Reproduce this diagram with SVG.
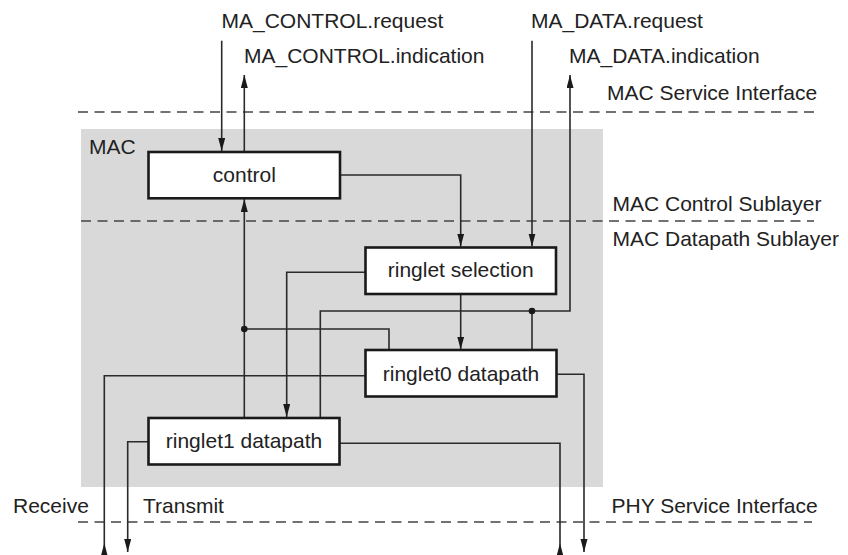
<svg xmlns="http://www.w3.org/2000/svg" width="848" height="555" viewBox="0 0 848 555">
  <defs>
    <style>
      text { font-family: "Liberation Sans", Arial, Helvetica, sans-serif; font-size: 21px; fill: #222; }
      .mid { text-anchor: middle; }
      .box { fill: #fff; stroke: #1a1a1a; stroke-width: 2.6; }
      .dash { fill: none; stroke: #444; stroke-width: 1.3; stroke-dasharray: 10 6.5; }
      .wire { fill: none; stroke: #2a2a2a; stroke-width: 1.6; }
      .arr { marker-end: url(#ah); }
    </style>
    <marker id="ah" markerUnits="userSpaceOnUse" markerWidth="14" markerHeight="8" refX="13" refY="3.5" orient="auto">
      <path d="M0,0 L13,3.5 L0,7 z" fill="#1a1a1a"/>
    </marker>
  </defs>

  <rect x="0" y="0" width="848" height="555" fill="#fff"/>

  <g id="mac-area">
    <rect x="81" y="129" width="522" height="358" fill="#d9d9d9"/>
    <text x="89" y="154">MAC</text>
  </g>

  <g id="interfaces">
    <line class="dash" x1="78" y1="112" x2="814" y2="112"/>
    <line class="dash" x1="81" y1="221" x2="814" y2="221"/>
    <line class="dash" x1="78" y1="522" x2="812" y2="522"/>
    <text x="607" y="100">MAC Service Interface</text>
    <text x="612.5" y="211">MAC Control Sublayer</text>
    <text x="612.5" y="246">MAC Datapath Sublayer</text>
    <text x="611.5" y="512.5">PHY Service Interface</text>
    <text x="13" y="512.5">Receive</text>
    <text x="143" y="512.5">Transmit</text>
  </g>

  <g id="primitives">
    <text x="221.5" y="28">MA_CONTROL.request</text>
    <text x="244" y="63">MA_CONTROL.indication</text>
    <text x="531" y="28">MA_DATA.request</text>
    <text x="569" y="63">MA_DATA.indication</text>
  </g>

  <g id="connectors">
    <!-- MA_CONTROL.request -->
    <path class="wire arr" d="M221.7,40.7 V151"/>
    <!-- MA_CONTROL.indication -->
    <path class="wire arr" d="M244.3,151 V75"/>
    <!-- control -> ringlet selection -->
    <path class="wire arr" d="M340,175 H460.7 V246.5"/>
    <!-- MA_DATA.request -->
    <path class="wire arr" d="M532,40.7 V246.5"/>
    <!-- ringlet1 top -> MA_DATA.indication -->
    <path class="wire arr" d="M320.3,417.7 V311 H570 V75"/>
    <!-- junction -> ringlet0 top -->
    <path class="wire" d="M532,311 V350"/>
    <circle cx="532" cy="311" r="3.3" fill="#1a1a1a"/>
    <!-- ringlet1 -> control -->
    <path class="wire arr" d="M244.3,417.7 V199"/>
    <!-- junction -> ringlet0 top -->
    <path class="wire" d="M244.3,329 H389 V350"/>
    <circle cx="244.3" cy="329" r="3.3" fill="#1a1a1a"/>
    <!-- ringlet selection -> ringlet0 -->
    <path class="wire arr" d="M460.7,294 V349.5"/>
    <!-- ringlet selection -> ringlet1 -->
    <path class="wire arr" d="M365.5,272.3 H286.7 V417"/>
    <!-- ringlet0 left: Receive -->
    <path class="wire arr" d="M365.5,375.7 H104.3 V558 V543.3"/>
    <!-- ringlet1 left: Transmit -->
    <path class="wire arr" d="M148.5,441.7 H127.7 V552"/>
    <!-- ringlet1 right: Receive -->
    <path class="wire arr" d="M339.5,443.3 H560 V558 V543.3"/>
    <!-- ringlet0 right: Transmit -->
    <path class="wire arr" d="M556.5,374.3 H584 V552"/>
  </g>

  <g id="control">
    <rect class="box" x="148.5" y="152" width="191.5" height="46.3"/>
    <text class="mid" x="244.3" y="181.7">control</text>
  </g>

  <g id="ringlet-selection">
    <rect class="box" x="365.5" y="247.5" width="190.5" height="46.5"/>
    <text class="mid" x="460.7" y="276.7">ringlet selection</text>
  </g>

  <g id="ringlet0-datapath">
    <rect class="box" x="365.5" y="350" width="191" height="46.5"/>
    <text class="mid" x="461" y="381">ringlet0 datapath</text>
  </g>

  <g id="ringlet1-datapath">
    <rect class="box" x="148.5" y="418" width="191" height="46.5"/>
    <text class="mid" x="244" y="447.7">ringlet1 datapath</text>
  </g>
</svg>
